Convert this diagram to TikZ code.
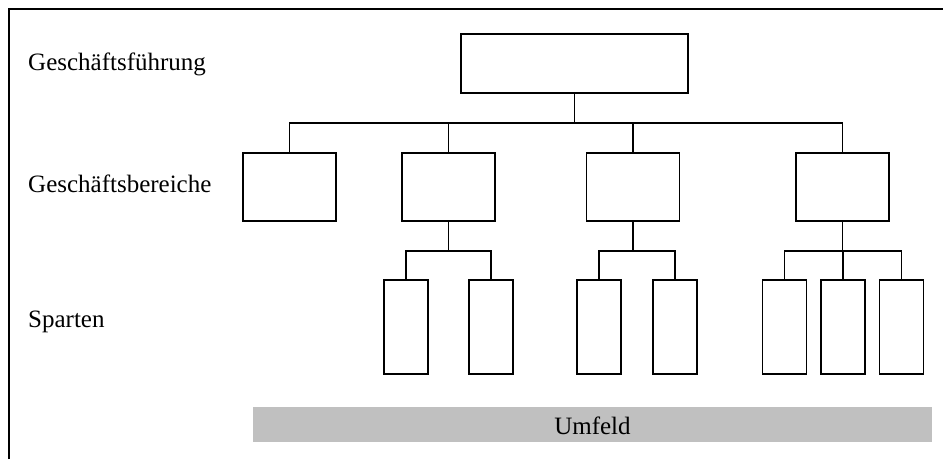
\documentclass[tikz,border=0pt]{standalone}
\usepackage{fontspec}
\setmainfont{Liberation Serif}
\definecolor{barfill}{RGB}{192,192,192}
\begin{document}
\begin{tikzpicture}[x=1pt,y=-1pt,
  unit/.style={draw,line width=1.6pt,fill=white,inner sep=0pt},
  boss/.style={unit,minimum width=227pt,minimum height=59pt},
  branch/.style={unit,minimum width=93pt,minimum height=68pt},
  division/.style={unit,minimum width=44pt,minimum height=94pt},
  link/.style={line width=1.1pt},
  trunk/.style={line width=1.6pt},
  level/.style={anchor=base west,font=\fontsize{25}{30}\selectfont,inner sep=0pt},
  frame/.style={line width=2pt}]
\useasboundingbox (0,0) rectangle (943,459);

% outer frame (top and left edges only)
\draw[frame] (8.5,459) -- (8.5,8.5) -- (943,8.5);

% level captions
\node[level] (lblGF) at (28,70) {Geschäftsführung};
\node[level] (lblGB) at (28,192) {Geschäftsbereiche};
\node[level] (lblSP) at (28,327) {Sparten};

% management
\node[boss] (top) at (574.5,63.5) {};

% business units
\node[branch] (gb1) at (289.5,187) {};
\node[branch] (gb2) at (448.5,187) {};
\node[branch] (gb3) at (633,187) {};
\node[branch] (gb4) at (842.5,187) {};

% divisions
\node[division] (sp1) at (406,327) {};
\node[division] (sp2) at (491,327) {};
\node[division] (sp3) at (599,327) {};
\node[division] (sp4) at (675,327) {};
\node[division] (sp5) at (784.5,327) {};
\node[division] (sp6) at (843,327) {};
\node[division] (sp7) at (901.5,327) {};

% junction points
\coordinate (bus) at (574.5,123);
\coordinate (j2) at (448.5,251);
\coordinate (j3) at (633,251);
\coordinate (j4) at (842.5,251);

% management to business units
\draw[trunk] (top.south) -- (bus);
\draw[link] (gb1.north) |- (bus) -| (gb4.north);
\draw[link] (gb2.north) -- (gb2.north |- bus);
\draw[link] (gb3.north) -- (gb3.north |- bus);

% business units to divisions
\draw[trunk] (gb2.south) -- (j2);
\draw[link] (sp1.north) |- (j2) -| (sp2.north);
\draw[trunk] (gb3.south) -- (j3);
\draw[link] (sp3.north) |- (j3) -| (sp4.north);
\draw[trunk] (gb4.south) -- (j4);
\draw[link] (sp5.north) |- (j4) -| (sp7.north);
\draw[link] (sp6.north) -- (sp6.north |- j4);

% environment bar
\node[fill=barfill,minimum width=679pt,minimum height=35pt,inner sep=0pt] (env) at (592.5,424.5) {};
\node[anchor=base,font=\fontsize{25}{30}\selectfont,inner sep=0pt] (envtxt) at (592.5,434) {Umfeld};
\end{tikzpicture}
\end{document}
